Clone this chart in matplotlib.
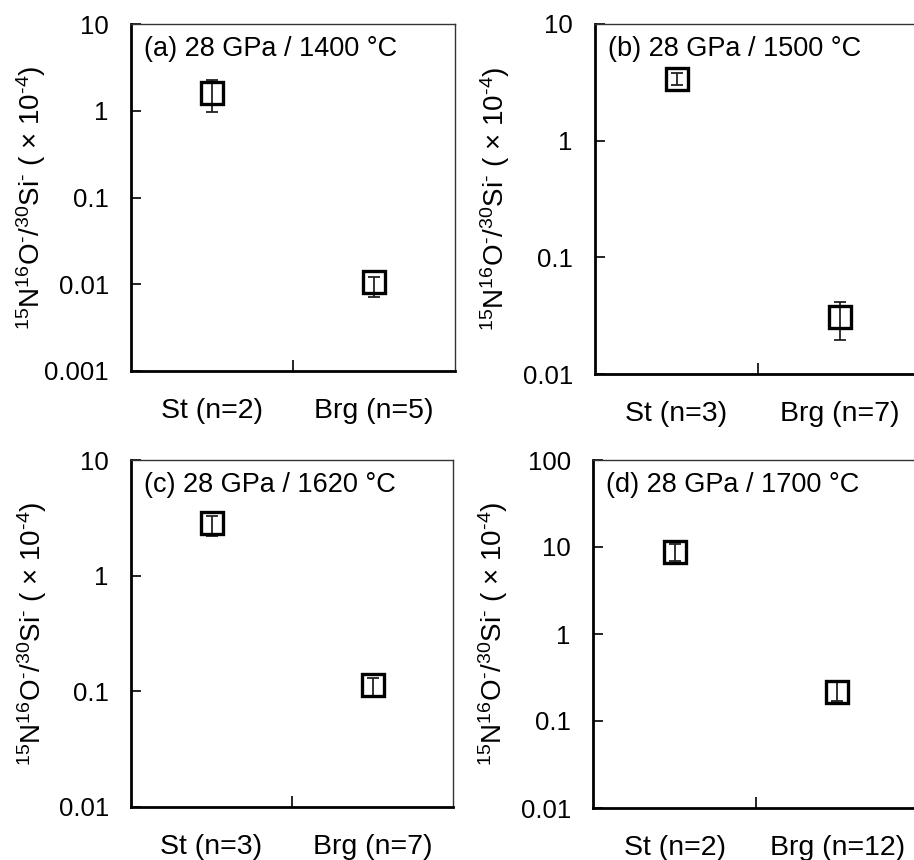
import numpy as np
import matplotlib
matplotlib.use("Agg")
from matplotlib import pyplot as plt
from matplotlib.ticker import FixedLocator, FuncFormatter, NullLocator

plt.rcParams['font.family'] = ['Liberation Sans', 'DejaVu Sans']
plt.rcParams['mathtext.fontset'] = 'custom'
plt.rcParams['mathtext.rm'] = 'Liberation Sans'
plt.rcParams['mathtext.default'] = 'regular'

# Data per panel (values in units of 1e-4)
titles = ['(a) 28 GPa / 1400 °C', '(b) 28 GPa / 1500 °C',
          '(c) 28 GPa / 1620 °C', '(d) 28 GPa / 1700 °C']
xlabels_a = ['St (n=2)', 'Brg (n=5)']
xlabels_b = ['St (n=3)', 'Brg (n=7)']
xlabels_c = ['St (n=3)', 'Brg (n=7)']
xlabels_d = ['St (n=2)', 'Brg (n=12)']

mean_a = [1.6, 0.0105]
low_a = [0.97, 0.0071]
high_a = [2.25, 0.0120]

mean_b = [3.4, 0.031]
low_b = [3.0, 0.0197]
high_b = [3.8, 0.0413]

mean_c = [2.85, 0.113]
low_c = [2.2, 0.089]
high_c = [3.3, 0.13]

mean_d = [8.8, 0.215]
low_d = [6.9, 0.17]
high_d = [10.8, 0.29]

ylims = [(0.001, 10), (0.01, 10), (0.01, 10), (0.01, 100)]

W, H = 914, 860
# axes boxes in pixels: left, right, top, bottom
boxes = [(131, 455, 24, 371), (595, 921, 24, 374),
         (131, 453, 460, 807), (593, 919, 460, 808)]

ylabel = '$^{15}$N$^{16}$O$^{‐}$/$^{30}$Si$^{‐}$ ( × 10$^{‐4}$)'


def fmt(v, pos):
    if v >= 1:
        return '%d' % round(v)
    return ('%.4f' % v).rstrip('0')


fig = plt.figure(figsize=(W / 100, H / 100), dpi=100)

panels = [(mean_a, low_a, high_a, xlabels_a),
          (mean_b, low_b, high_b, xlabels_b),
          (mean_c, low_c, high_c, xlabels_c),
          (mean_d, low_d, high_d, xlabels_d)]

for i, (mean, low, high, xl) in enumerate(panels):
    l, r, t, b = boxes[i]
    ax = fig.add_axes([l / W, 1 - b / H, (r - l) / W, (b - t) / H])
    x = np.array([1, 2])
    mean = np.array(mean)
    yerr = [mean - np.array(low), np.array(high) - mean]
    ax.errorbar(x, mean, yerr=yerr, fmt='none', ecolor='#222222',
                elinewidth=1.3, capsize=4, capthick=1.3, zorder=2)
    ax.plot(x, mean, 's', ms=16.5, mfc='none', mec='black', mew=2.4,
            zorder=3)
    ax.set_yscale('log')
    ax.set_ylim(*ylims[i])
    ax.set_xlim(0.5, 2.5)

    lo, hi = ylims[i]
    decades = 10.0 ** np.arange(np.log10(lo), np.log10(hi) + 0.5)
    ax.yaxis.set_major_locator(FixedLocator(decades))
    ax.yaxis.set_minor_locator(NullLocator())
    ax.yaxis.set_major_formatter(FuncFormatter(fmt))

    ax.set_xticks([1.5])
    ax.set_xticklabels([''])
    for xi, lab in zip(x, xl):
        ax.text(xi, -0.115, lab, transform=ax.get_xaxis_transform(),
                ha='center', va='center', fontsize=20.5)

    ax.tick_params(axis='y', direction='in', length=7, width=1.2,
                   pad=16, labelsize=18.5)
    ax.tick_params(axis='x', direction='in', length=8, width=1.2)

    ax.spines['left'].set_linewidth(2.0)
    ax.spines['bottom'].set_linewidth(2.0)
    ax.spines['top'].set_linewidth(1.0)
    ax.spines['right'].set_linewidth(1.0)
    ax.spines['top'].set_color('#333333')
    ax.spines['right'].set_color('#333333')

    ax.text(0.04, 0.965, titles[i], transform=ax.transAxes, ha='left',
            va='top', fontsize=19.5)

    ax.set_ylabel(ylabel, fontsize=20)
    ax.yaxis.set_label_coords(-0.255, 0.5)

fig.savefig('out.png', dpi=100)
